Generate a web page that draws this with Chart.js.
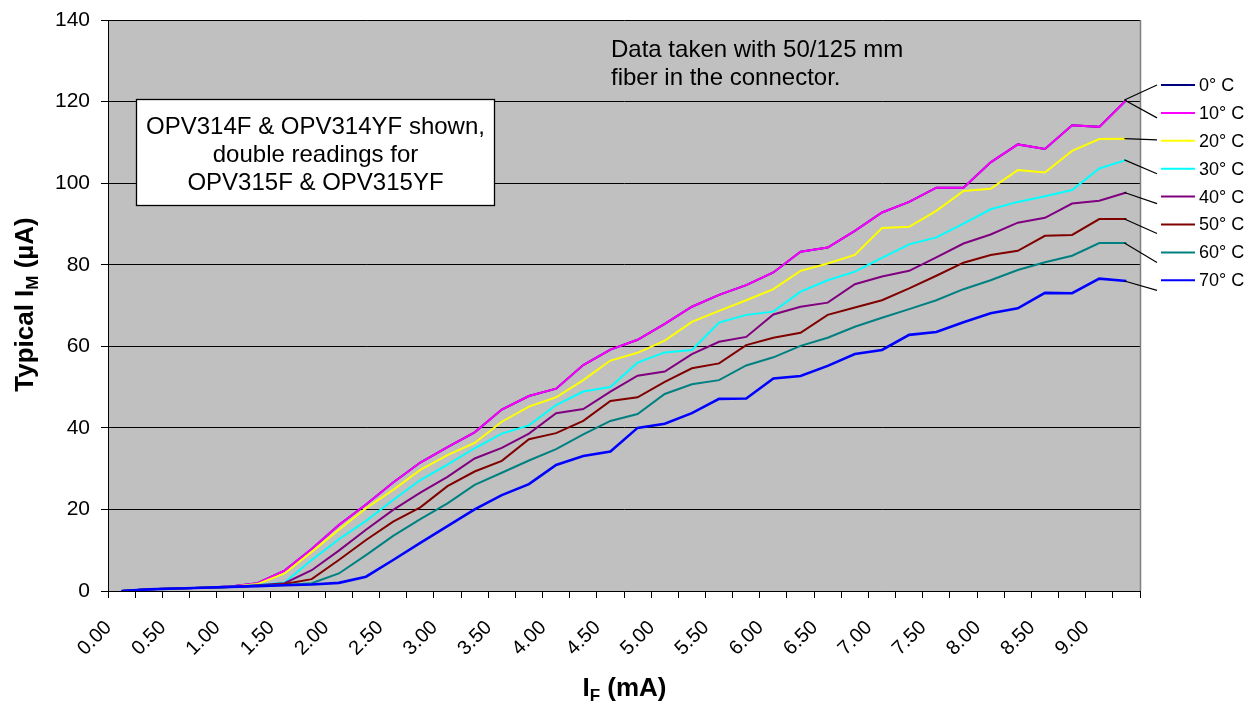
<!DOCTYPE html>
<html>
<head>
<meta charset="utf-8">
<script src="https://cdn.jsdelivr.net/npm/chart.js@4.4.0/dist/chart.umd.min.js"></script>
<style>
  html, body { margin: 0; padding: 0; background: #ffffff; }
  #wrap { width: 1255px; height: 703px; position: relative; }
</style>
</head>
<body>
<div id="wrap"><canvas id="c" width="1255" height="703"></canvas></div>
<script>
// ---------- DATA ----------
const categories = ['0.00','0.25','0.50','0.75','1.00','1.25','1.50','1.75','2.00','2.25',
  '2.50','2.75','3.00','3.25','3.50','3.75','4.00','4.25','4.50','4.75',
  '5.00','5.25','5.50','5.75','6.00','6.25','6.50','6.75','7.00','7.25',
  '7.50','7.75','8.00','8.25','8.50','8.75','9.00','9.25'];

const seriesNames = ['0° C','10° C','20° C','30° C','40° C','50° C','60° C','70° C'];

const t0 = [0,0.4,0.6,0.8,1.1,1.9,5.0,10.3,16.2,21.2,26.6,31.5,35.3,38.9,44.5,47.8,49.6,55.4,59.2,61.6,65.5,69.7,72.6,75.0,78.1,83.2,84.2,88.3,92.8,95.4,98.9,98.9,105.1,109.5,108.4,114.2,113.8,120.4];
const t10 = [0,0.4,0.6,0.8,1.1,1.9,5.0,10.3,16.2,21.2,26.6,31.5,35.3,38.9,44.5,47.8,49.6,55.4,59.2,61.6,65.5,69.7,72.6,75.0,78.1,83.2,84.2,88.3,92.8,95.4,98.9,98.9,105.1,109.5,108.4,114.2,113.8,120.4];
const t20 = [0,0.4,0.6,0.8,1.0,1.7,4.3,9.6,15.0,20.3,24.8,29.7,33.3,36.3,41.5,45.2,47.5,51.7,56.5,58.4,61.4,66.0,68.7,71.3,74.0,78.5,80.3,82.4,89.0,89.3,93.2,98.1,98.6,103.2,102.6,107.9,110.8,110.9];
const t30 = [0,0.4,0.6,0.8,1.0,1.5,2.1,7.6,12.7,17.2,22.3,27.2,31.0,35.0,38.6,40.6,45.6,48.9,50.0,56.0,58.5,59.1,65.8,67.7,68.5,73.4,76.2,78.3,81.7,85.0,86.7,90.1,93.6,95.4,96.8,98.3,103.6,105.7];
const t40 = [0,0.4,0.6,0.8,1.0,1.4,1.9,5.1,9.9,15.0,19.9,24.1,28.0,32.5,35.1,38.6,43.6,44.6,48.9,52.8,53.8,58.1,61.1,62.3,67.8,69.7,70.7,75.2,77.1,78.5,81.8,85.2,87.4,90.3,91.5,95.0,95.7,97.7];
const t50 = [0,0.4,0.6,0.8,1.0,1.3,1.7,2.9,7.6,12.5,17.0,20.5,25.7,29.3,31.9,37.2,38.7,41.7,46.6,47.5,51.3,54.6,55.8,60.3,62.1,63.3,67.7,69.5,71.3,74.2,77.3,80.5,82.4,83.4,87.1,87.3,91.2,91.2];
const t60 = [0,0.4,0.6,0.8,1.0,1.3,1.5,1.9,4.3,8.8,13.5,17.6,21.5,26.0,29.0,32.0,34.8,38.4,41.7,43.4,48.3,50.7,51.7,55.3,57.3,60.1,62.1,64.8,67.0,69.1,71.3,74.0,76.2,78.7,80.6,82.2,85.3,85.3];
const t70 = [0,0.4,0.6,0.8,1.0,1.2,1.4,1.6,2.0,3.5,7.6,11.8,15.9,20.0,23.5,26.2,30.9,33.1,34.2,40.0,41.0,43.6,47.1,47.2,52.1,52.7,55.2,58.1,59.1,62.8,63.5,65.9,68.1,69.3,73.1,73.0,76.6,76.0];

const yTicks = [0,20,40,60,80,100,120,140];
const noteTop = ['Data taken with 50/125 mm', 'fiber in the connector.'];
const noteBox = ['OPV314F & OPV314YF shown,', 'double readings for', 'OPV315F & OPV315YF'];

// ---------- STYLE ----------
const FONT = "'Liberation Sans', Arial, Helvetica, sans-serif";
const colors = ['#000080','#FF00FF','#FFFF00','#00FFFF','#800080','#800000','#008080','#0000FF'];
const widths = [2,2,2,2,2,2,2,2.6];
const seriesValues = [t0,t10,t20,t30,t40,t50,t60,t70];

const datasets = seriesValues.map((vals, i) => ({
  label: seriesNames[i],
  data: vals,
  borderColor: colors[i],
  backgroundColor: colors[i],
  borderWidth: widths[i],
  pointRadius: 0,
  pointHoverRadius: 0,
  tension: 0,
  fill: false,
  order: seriesValues.length - i
}));

function drawRich(ctx, parts, x, y) {
  let total = 0;
  parts.forEach(p => { ctx.font = p.font; p.w = ctx.measureText(p.t).width; total += p.w; });
  let cx = x - total / 2;
  ctx.textAlign = 'left';
  ctx.textBaseline = 'alphabetic';
  parts.forEach(p => { ctx.font = p.font; ctx.fillText(p.t, cx, y + (p.dy || 0)); cx += p.w; });
}

const decor = {
  id: 'decor',
  beforeDraw(chart) {
    const { ctx, chartArea: a } = chart;
    ctx.save();
    ctx.fillStyle = '#C0C0C0';
    ctx.fillRect(a.left, a.top, a.right - a.left, a.bottom - a.top);
    ctx.restore();
  },
  afterDraw(chart) {
    const { ctx, chartArea: a } = chart;
    ctx.save();
    // right border of plot
    ctx.strokeStyle = '#808080';
    ctx.lineWidth = 1.5;
    ctx.beginPath();
    ctx.moveTo(a.right + 0.5, a.top);
    ctx.lineTo(a.right + 0.5, a.bottom);
    ctx.stroke();

    // legend with leader lines
    const legX = 1161, legTop = 85, legStep = 27.9;
    const leaderEndDy = [0, 5, -1, 5, 7, 9, 10, 10];
    ctx.font = '18px ' + FONT;
    ctx.textBaseline = 'middle';
    ctx.textAlign = 'left';
    chart.data.datasets.forEach((ds, i) => {
      const y = legTop + i * legStep;
      ctx.strokeStyle = ds.borderColor;
      ctx.lineWidth = 2;
      ctx.beginPath();
      ctx.moveTo(legX, y);
      ctx.lineTo(legX + 34, y);
      ctx.stroke();
      ctx.fillStyle = '#000';
      ctx.fillText(ds.label, legX + 38, y + 1);
      const meta = chart.getDatasetMeta(i);
      const pt = meta.data[meta.data.length - 1];
      ctx.strokeStyle = '#000';
      ctx.lineWidth = 1.2;
      ctx.beginPath();
      ctx.moveTo(pt.x - 2, pt.y);
      ctx.lineTo(legX - 4, y + leaderEndDy[i]);
      ctx.stroke();
    });

    // top note
    ctx.fillStyle = '#000';
    ctx.font = '24px ' + FONT;
    ctx.textAlign = 'left';
    ctx.textBaseline = 'alphabetic';
    ctx.fillText(noteTop[0], 611, 56.5);
    ctx.fillText(noteTop[1], 611, 85);

    // boxed note
    ctx.fillStyle = '#FFFFFF';
    ctx.fillRect(136.5, 99.5, 358, 106);
    ctx.strokeStyle = '#000';
    ctx.lineWidth = 1.3;
    ctx.strokeRect(136.5, 99.5, 358, 106);
    ctx.fillStyle = '#000';
    ctx.textAlign = 'center';
    ctx.fillText(noteBox[0], 315.5, 134);
    ctx.fillText(noteBox[1], 315.5, 161.8);
    ctx.fillText(noteBox[2], 315.5, 189.5);

    // x axis title
    ctx.fillStyle = '#000';
    drawRich(ctx, [
      { t: 'I', font: 'bold 26px ' + FONT },
      { t: 'F', font: 'bold 17px ' + FONT, dy: 5 },
      { t: ' (mA)', font: 'bold 26px ' + FONT }
    ], 624.5, 696);

    // y axis title
    ctx.save();
    ctx.translate(33, 304.5);
    ctx.rotate(-Math.PI / 2);
    drawRich(ctx, [
      { t: 'Typical I', font: 'bold 26px ' + FONT },
      { t: 'M', font: 'bold 17px ' + FONT, dy: 5 },
      { t: ' (µA)', font: 'bold 26px ' + FONT }
    ], 0, 0);
    ctx.restore();

    ctx.restore();
  }
};

new Chart(document.getElementById('c'), {
  type: 'line',
  data: { labels: categories, datasets: datasets },
  options: {
    responsive: false,
    animation: false,
    devicePixelRatio: 1,
    layout: { padding: { left: 0, right: 115, top: 20, bottom: 0 } },
    plugins: { legend: { display: false }, tooltip: { enabled: false }, title: { display: false } },
    scales: {
      x: {
        type: 'category',
        offset: true,
        grid: { offset: true, drawOnChartArea: false, drawTicks: true, tickLength: 7, color: '#000', lineWidth: 1 },
        border: { display: true, color: '#000', width: 1 },
        ticks: {
          autoSkip: false,
          maxRotation: 45,
          minRotation: 45,
          padding: 18,
          labelOffset: -13,
          color: '#000',
          font: { family: FONT, size: 20 },
          callback: function (value, index) { return index % 2 === 0 ? categories[index] : ''; }
        },
        afterFit(scale) {
          scale.height = 112;
          scale.paddingLeft = 0; scale.paddingRight = 0;
          scale.paddingTop = 0; scale.paddingBottom = 0;
        }
      },
      y: {
        min: 0,
        max: 140,
        afterBuildTicks(scale) { scale.ticks = yTicks.map(v => ({ value: v })); },
        grid: { color: '#000', lineWidth: 1, tickLength: 7, drawTicks: true },
        border: { display: true, color: '#000', width: 1 },
        ticks: { color: '#000', padding: 11, font: { family: FONT, size: 21 } },
        afterFit(scale) {
          scale.width = 108;
          scale.paddingTop = 0; scale.paddingBottom = 0;
          scale.paddingLeft = 0; scale.paddingRight = 0;
        }
      }
    }
  },
  plugins: [decor]
});
</script>
</body>
</html>
